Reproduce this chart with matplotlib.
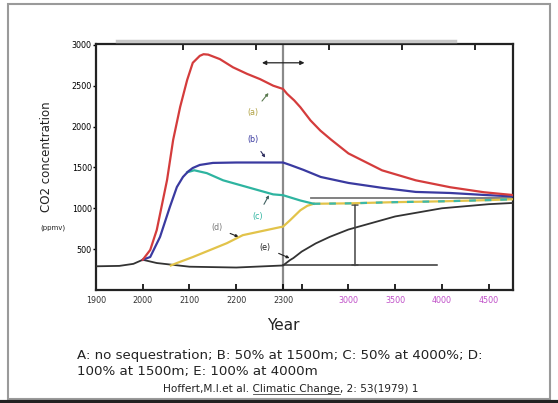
import numpy as np
import matplotlib
matplotlib.use("Agg")
import matplotlib.pyplot as plt
from matplotlib.lines import Line2D
from matplotlib.patches import Rectangle

plt.rcParams["font.family"] = ["DejaVu Sans"]

# Curve data (year, CO2 ppmv)
base_years = [1900, 1950, 1980, 2000]
base_vals = [290, 295, 320, 370]

a_years = [2000, 2016, 2030, 2052, 2065, 2080, 2095, 2107, 2122, 2130, 2140, 2165, 2193, 2223,
           2251, 2279, 2300, 2344, 2420, 2486, 2595, 2700, 2814, 3000, 3360, 3720, 4090, 4450, 4760]
a_vals = [370, 490, 735, 1346, 1836, 2240, 2570, 2780, 2865, 2885, 2880, 2825, 2725, 2645,
          2580, 2500, 2460, 2400, 2320, 2236, 2074, 1950, 1840, 1671, 1464, 1342, 1257, 1196, 1162]

b_years = [2000, 2016, 2037, 2058, 2073, 2086, 2097, 2107, 2122, 2150, 2200, 2300, 2376, 2518, 2704,
           3000, 3360, 3720, 4090, 4450, 4760]
b_vals = [370, 404, 650, 1016, 1260, 1383, 1450, 1493, 1530, 1555, 1560, 1560, 1530, 1470, 1383,
          1310, 1250, 1200, 1187, 1163, 1145]

c_years = [2095, 2110, 2137, 2172, 2223, 2279, 2300, 2400, 2486, 2628]
c_vals = [1440, 1465, 1430, 1342, 1260, 1170, 1160, 1125, 1095, 1055]

d_years = [2060, 2073, 2107, 2180, 2214, 2294, 2300, 2376, 2486, 2560, 2628]
d_vals = [300, 330, 403, 573, 671, 769, 775, 854, 976, 1030, 1055]

cd_years = [2628, 3000, 3500, 4000, 4500, 4760]
cd_vals = [1055, 1060, 1075, 1085, 1100, 1110]

e_years = [2000, 2030, 2100, 2200, 2300, 2376, 2410, 2500, 2650, 2800, 3000, 3250, 3500,
           4000, 4500, 4760]
e_vals = [370, 330, 285, 275, 300, 367, 390, 470, 570, 650, 740, 820, 900, 1000, 1050, 1065]

x_ticks = [1900, 2000, 2100, 2200, 2300, 2500, 3000, 3500, 4000, 4500]
x_labels = ["1900", "2000", "2100", "2200", "2300", "", "3000", "3500", "4000", "4500"]
y_ticks = [500, 1000, 1500, 2000, 2500, 3000]


def fwd(x):
    x = np.asarray(x, dtype=float)
    return np.where(x <= 2300, x, 2300 + (x - 2300) / 5.0)


def inv(y):
    y = np.asarray(y, dtype=float)
    return np.where(y <= 2300, y, 2300 + (y - 2300) * 5.0)


W, H = 558, 403
fig = plt.figure(figsize=(W / 100, H / 100), dpi=100)


def fx(px):
    return px / W


def fy(py):
    return 1 - py / H


ax = fig.add_axes([fx(96), fy(290), fx(513) - fx(96), fy(44) - fy(290)])
ax.set_xscale("function", functions=(fwd, inv))
ax.set_xlim(1900, 4760)
ax.set_ylim(0, 3010)

# reference lines
ax.axvline(2300, color="#8a8a8a", lw=1.6, zorder=1)
ax.plot([2300, 3950], [300, 300], color="#333333", lw=1.1, zorder=2)
ax.plot([2600, 4760], [1122, 1122], color="#777777", lw=1.3, zorder=2)

# curves
ax.plot(base_years, base_vals, color="#333333", lw=1.3, zorder=3)
ax.plot(e_years, e_vals, color="#333333", lw=1.3, zorder=3)
ax.plot(d_years, d_vals, color="#e2c34a", lw=1.6, zorder=4)
ax.plot(cd_years, cd_vals, color="#e2c34a", lw=1.6, zorder=4)
ax.plot(cd_years, cd_vals, color="#3cb8a8", lw=1.6, ls=(0, (3, 4)), zorder=5)
ax.plot(c_years, c_vals, color="#2eb4a0", lw=1.6, zorder=4)
ax.plot(b_years, b_vals, color="#3a3aa0", lw=1.6, zorder=5)
ax.plot(a_years, a_vals, color="#d43c3c", lw=1.6, zorder=6)

# arrows
ax.annotate("", xy=(2255, 2780), xytext=(2530, 2780),
            arrowprops=dict(arrowstyle="<|-|>", color="#222222", lw=0.9,
                            mutation_scale=6, shrinkA=0, shrinkB=0))
ax.annotate("", xy=(3070, 300), xytext=(3070, 1045),
            arrowprops=dict(arrowstyle="|-|", color="#444444", lw=1.1,
                            mutation_scale=2, shrinkA=0, shrinkB=0))

# curve labels with leader lines
labels = [("(a)", 2235, 2170, 2269, 2410, "#b0a040", "#5a7a50"),
          ("(b)", 2235, 1840, 2262, 1620, "#3a3aa0", "#303060"),
          ("(c)", 2245, 900, 2270, 1160, "#2eb4a0", "#406060"),
          ("(d)", 2158, 760, 2205, 650, "#777777", "#222222"),
          ("(e)", 2262, 520, 2370, 390, "#222222", "#222222")]
for txt, tx, ty, px, py, tc, lc in labels:
    ax.annotate(txt, xy=(px, py), xytext=(tx, ty), fontsize=5.8, color=tc,
                ha="center", va="center",
                arrowprops=dict(arrowstyle="-|>", color=lc, lw=0.8,
                                mutation_scale=4, shrinkA=4, shrinkB=0))

# axes styling
for s in ax.spines.values():
    s.set_linewidth(1.6)
    s.set_color("#222222")
ax.set_xticks(x_ticks)
ax.set_xticklabels(x_labels)
ax.set_yticks(y_ticks)
ax.set_yticklabels([str(v) for v in y_ticks])
ax.tick_params(axis="x", direction="in", length=4, width=1.2, labelsize=5.8, pad=4)
ax.tick_params(axis="y", direction="out", length=2, width=1.0, labelsize=5.8, pad=1)
ax.xaxis.set_minor_locator(plt.NullLocator())
for lab, val in zip(ax.get_xticklabels(), x_ticks):
    lab.set_color("#c050c8" if val >= 3000 else "#333333")

top = ax.secondary_xaxis("top", functions=(lambda v: v, lambda v: v))
top.set_xticks([2500, 3000, 3500, 4000, 4500])
top.tick_params(direction="in", length=4, width=1.2, labeltop=False)
top.spines["top"].set_visible(False)

# axis titles
fig.text(fx(47), fy(157), "CO2 concentration", rotation=90, ha="center", va="center",
         fontsize=8.5, color="#222222")
fig.text(fx(53), fy(228), "(ppmv)", ha="center", va="center", fontsize=5, color="#222222")
fig.text(fx(283), fy(325), "Year", ha="center", va="center", fontsize=11, color="#222222")

# caption
fig.text(fx(77), fy(355), "A: no sequestration; B: 50% at 1500m; C: 50% at 4000%; D:",
         ha="left", va="center", fontsize=9.6, color="#222222")
fig.text(fx(77), fy(372), "100% at 1500m; E: 100% at 4000m",
         ha="left", va="center", fontsize=9.6, color="#222222")
fig.text(fx(291), fy(389), "Hoffert,M.I.et al. Climatic Change, 2: 53(1979) 1",
         ha="center", va="center", fontsize=7.6, color="#222222")
fig.add_artist(Line2D([fx(253), fx(340)], [fy(394), fy(394)], color="#444444", lw=0.6))

# scanned frame details
fig.add_artist(Line2D([fx(117), fx(455)], [fy(41), fy(41)], color="#c8c8c8", lw=2.5))
fig.add_artist(Rectangle((fx(8), fy(399)), fx(550) - fx(8), fy(4) - fy(399),
                         fill=False, edgecolor="#9a9a9a", lw=1.5))
fig.add_artist(Line2D([0, 1], [fy(401.5), fy(401.5)], color="#222222", lw=3))

fig.savefig("out.png", dpi=100)
